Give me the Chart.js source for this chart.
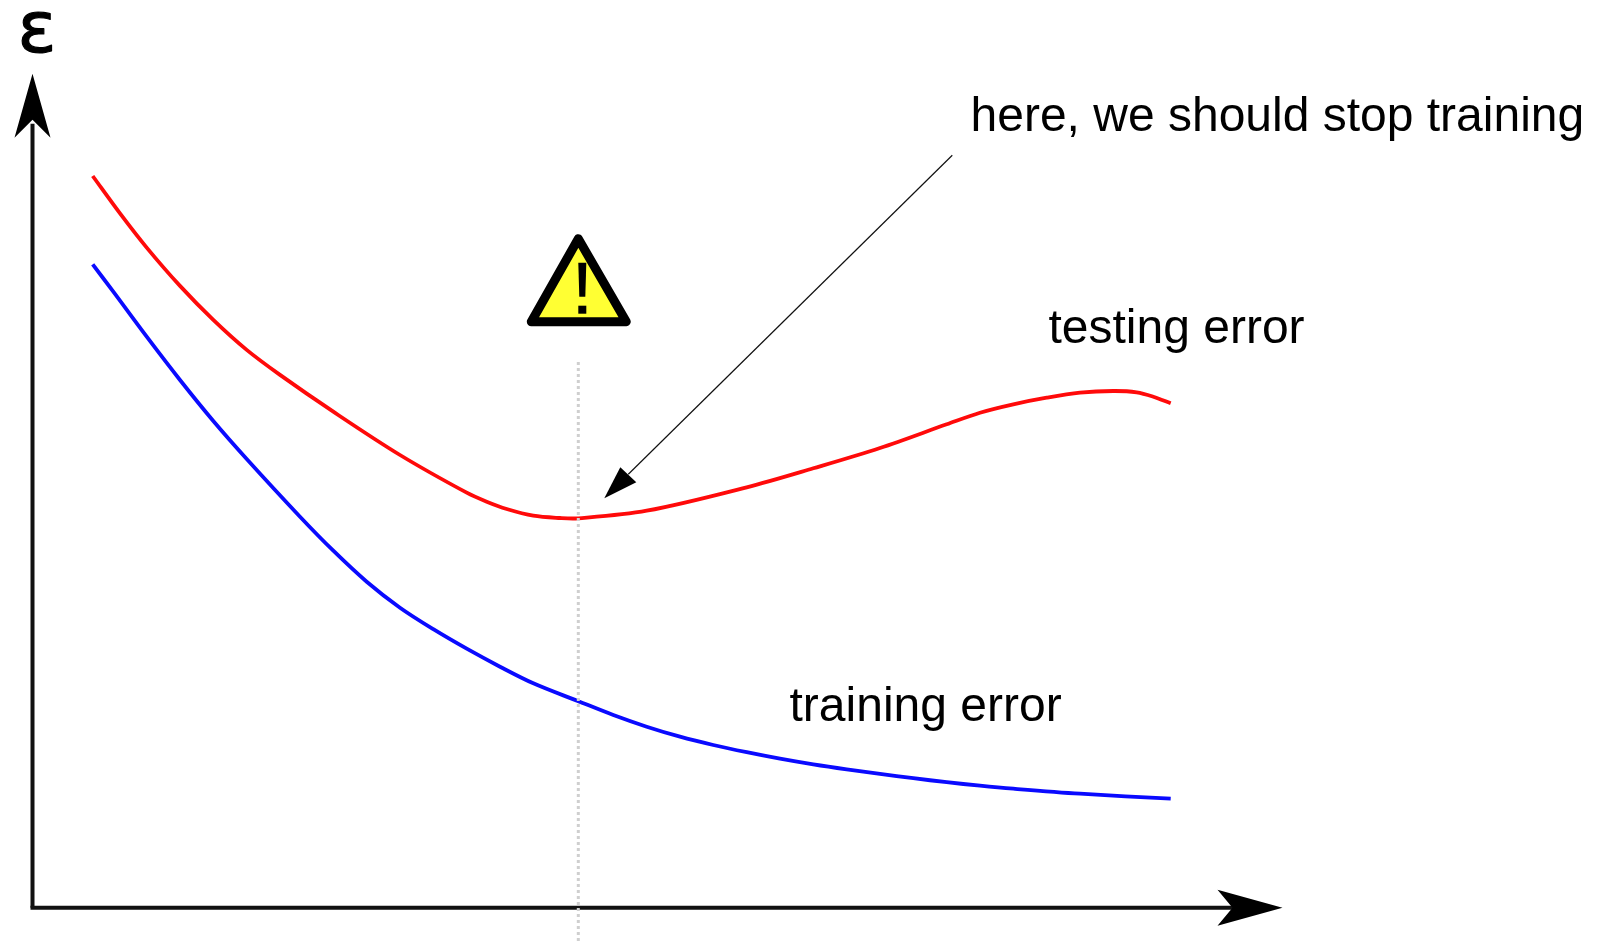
<!DOCTYPE html>
<html>
<head>
<meta charset="utf-8">
<title>Early stopping</title>
<script src="https://cdn.jsdelivr.net/npm/chart.js@4"></script>
<style>
  html, body { margin: 0; padding: 0; background: #fff; }
  canvas { display: block; }
</style>
</head>
<body>
<canvas id="errorChart" width="1606" height="941"></canvas>
<script>
const testingX = [6.02, 8.75, 11.42, 14.75, 18.08, 21.42, 24.75, 30.08, 36.75, 43.42, 45.42, 47.42, 50.08, 52.75, 54.58, 61.42, 71.42, 78.08, 84.75, 91.42, 94.75, 98.08, 101.42, 104.75, 108.08, 110.42, 112.08, 113.82]
const testingError = [73.17, 69.43, 66.01, 62.18, 58.78, 55.78, 53.28, 49.6, 45.27, 41.5, 40.6, 39.87, 39.2, 38.97, 38.94, 39.7, 42.04, 43.94, 45.97, 48.34, 49.5, 50.34, 51, 51.5, 51.67, 51.54, 51.1, 50.44]
const trainingX = [6.02, 8.08, 11.42, 14.75, 18.08, 21.42, 26.75, 30.08, 33.42, 36.75, 40.08, 43.42, 46.75, 50.08, 54.58, 58.08, 61.42, 64.75, 68.08, 71.42, 74.75, 78.08, 81.42, 84.75, 88.08, 91.42, 94.75, 98.08, 104.75, 113.82]
const trainingError = [64.34, 61.6, 57.1, 52.77, 48.67, 44.87, 39.1, 35.7, 32.6, 30, 27.85, 25.9, 24.1, 22.44, 20.65, 19.27, 18.1, 17.1, 16.27, 15.55, 14.9, 14.33, 13.83, 13.38, 12.95, 12.55, 12.2, 11.9, 11.4, 10.9]

const stopX = 54.58
const xAxisEnd = 125
const yAxisEnd = 83.4
const labels = [
  { text: 'here, we should stop training', x: 93.8, y: 77.7 },
  { text: 'testing error', x: 101.6, y: 56.5 },
  { text: 'training error', x: 75.7, y: 18.7 }
]

function toPoints(xs, ys) {
  return xs.map((x, i) => ({ x: x, y: ys[i] }))
}

function fillPolygon(ctx, points) {
  ctx.beginPath()
  points.forEach((p, i) => {
    if (i === 0) ctx.moveTo(p[0], p[1])
    else ctx.lineTo(p[0], p[1])
  })
  ctx.closePath()
  ctx.fill()
}

// arrows, warning sign and text, placed through the chart scales
const decorations = {
  id: 'decorations',
  afterDatasetsDraw(chart) {
    const { ctx, scales } = chart
    const px = v => scales.x.getPixelForValue(v)
    const py = v => scales.y.getPixelForValue(v)

    ctx.save()
    ctx.fillStyle = '#000'

    // y axis head
    const yTipX = px(0)
    const yTipY = py(yAxisEnd)
    fillPolygon(ctx, [[yTipX, yTipY], [yTipX + 18, yTipY + 64], [yTipX, yTipY + 46], [yTipX - 18, yTipY + 64]])

    // x axis head
    const xTipX = px(xAxisEnd)
    const xTipY = py(0)
    fillPolygon(ctx, [[xTipX, xTipY], [xTipX - 65, xTipY - 18], [xTipX - 50, xTipY], [xTipX - 65, xTipY + 18]])

    // pointer to the minimum
    const tipX = px(stopX) + 26
    const tipY = py(38.94) - 20
    ctx.strokeStyle = '#111'
    ctx.lineWidth = 1.2
    ctx.beginPath()
    ctx.moveTo(tipX + 24, tipY - 24)
    ctx.lineTo(tipX + 348, tipY - 343)
    ctx.stroke()
    fillPolygon(ctx, [[tipX, tipY], [tipX + 16, tipY - 31], [tipX + 32, tipY - 16]])

    // warning sign
    const signX = px(stopX)
    const signY = py(58.2)
    ctx.lineJoin = 'round'
    ctx.lineWidth = 9
    ctx.strokeStyle = '#000'
    ctx.fillStyle = '#ffff33'
    ctx.beginPath()
    ctx.moveTo(signX, signY - 87)
    ctx.lineTo(signX + 48, signY - 4)
    ctx.lineTo(signX - 47, signY - 4)
    ctx.closePath()
    ctx.fill()
    ctx.stroke()
    ctx.fillStyle = '#000'
    fillPolygon(ctx, [[signX, signY - 63], [signX + 8, signY - 63], [signX + 7, signY - 29], [signX + 1, signY - 29]])
    ctx.fillRect(signX, signY - 20, 8, 8)

    // text
    ctx.textBaseline = 'alphabetic'
    ctx.textAlign = 'left'
    ctx.font = '48px "Liberation Sans", Arial, sans-serif'
    labels.forEach(l => ctx.fillText(l.text, px(l.x), py(l.y)))
    ctx.font = '72px "DejaVu Sans", sans-serif'
    ctx.lineWidth = 1.2
    ctx.fillText('ε', px(0) - 15, 52)
    ctx.strokeText('ε', px(0) - 15, 52)
    ctx.restore()
  }
}

new Chart(document.getElementById('errorChart'), {
  type: 'scatter',
  data: {
    datasets: [
      {
        label: 'stop',
        data: toPoints([stopX, stopX], [-3.33, 54.7]),
        showLine: true,
        borderColor: '#cfcfcf',
        borderWidth: 3,
        borderDash: [3, 3],
        pointRadius: 0
      },
      {
        label: 'testing error',
        data: toPoints(testingX, testingError),
        showLine: true,
        tension: 0.33,
        borderColor: '#ff0a0a',
        borderWidth: 3.8,
        pointRadius: 0
      },
      {
        label: 'training error',
        data: toPoints(trainingX, trainingError),
        showLine: true,
        tension: 0.33,
        borderColor: '#0a0aff',
        borderWidth: 3.8,
        pointRadius: 0
      },
      {
        label: 'x axis',
        data: toPoints([0, xAxisEnd - 5], [0, 0]),
        showLine: true,
        borderColor: '#111',
        borderWidth: 4,
        borderCapStyle: 'square',
        pointRadius: 0
      },
      {
        label: 'y axis',
        data: toPoints([0, 0], [0, yAxisEnd - 5]),
        showLine: true,
        borderColor: '#111',
        borderWidth: 4,
        pointRadius: 0
      }
    ]
  },
  options: {
    responsive: false,
    animation: false,
    layout: { padding: 0 },
    plugins: { legend: { display: false }, tooltip: { enabled: false } },
    scales: {
      x: { type: 'linear', display: false, min: -3.25, max: 157.35 },
      y: { type: 'linear', display: false, min: -3.33, max: 90.77 }
    }
  },
  plugins: [decorations]
})
</script>
</body>
</html>
